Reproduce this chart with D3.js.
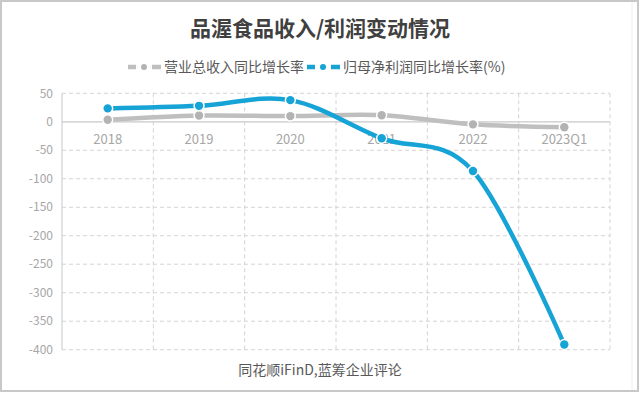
<!DOCTYPE html>
<html><head><meta charset="utf-8">
<script src="https://cdn.jsdelivr.net/npm/d3@7"></script>
<style>body{margin:0;background:#fff}svg{display:block}</style>
</head><body>
<script>
const categories = ["2018","2019","2020","2021","2022","2023Q1"];
const revenueGrowth = [3.5, 11, 10, 11.5, -4.5, -9.5];
const profitGrowth = [23.5, 28, 38, -29, -86.5, -391];
const yTicks = [50,0,-50,-100,-150,-200,-250,-300,-350,-400];
const seriesNames = ["营业总收入同比增长率","归母净利润同比增长率(%)"];
const colors = ["#bfbfbf","#16a3d6"];

const W=640,H=393;
const svg=d3.select("body").append("svg").attr("width",W).attr("height",H);
svg.append("rect").attr("x",0).attr("y",0).attr("width",W).attr("height",H).attr("fill","#fff");
// outer border
svg.append("rect").attr("x",1).attr("y",1).attr("width",W-3).attr("height",H-3)
  .attr("fill","none").attr("stroke","#c8c8c8").attr("stroke-width",2);
svg.append("line").attr("x1",632).attr("x2",632).attr("y1",2).attr("y2",390).attr("stroke","#eeeeee");

const font="'Noto Sans CJK SC','Noto Sans',sans-serif";
svg.append("text").attr("x",320).attr("y",36).attr("text-anchor","middle")
  .attr("font-family",font).attr("font-weight","bold").attr("font-size",21).attr("fill","#404040")
  .text("品渥食品收入/利润变动情况");

const x=d3.scalePoint().domain(categories).range([62+45.7,610-45.7]);
const y=d3.scaleLinear().domain([-400,50]).range([349.7,93.3]);
const left=62,right=610;

const g=svg.append("g");
// horizontal grid
g.selectAll(".hg").data(yTicks.filter(t=>t!==0)).join("line")
  .attr("x1",left).attr("x2",right).attr("y1",d=>y(d)).attr("y2",d=>y(d))
  .attr("stroke","#d4d4d4").attr("stroke-dasharray","4,3").attr("stroke-width",1);
// vertical grid
const vx=d3.range(categories.length+1).map(i=>left+(right-left)*i/categories.length);
g.selectAll(".vg").data(vx.slice(1)).join("line")
  .attr("x1",d=>d).attr("x2",d=>d).attr("y1",y(50)).attr("y2",y(-400))
  .attr("stroke","#d4d4d4").attr("stroke-dasharray","4,3");
// y axis line
g.append("line").attr("x1",left).attr("x2",left).attr("y1",y(50)).attr("y2",y(-400)).attr("stroke","#c8c8c8");
// zero line
g.append("line").attr("x1",left).attr("x2",right).attr("y1",y(0)).attr("y2",y(0)).attr("stroke","#c8c8c8").attr("stroke-width",1.2);

// y labels
g.selectAll(".yl").data(yTicks).join("text")
  .attr("x",53).attr("y",d=>y(d)).attr("dy","0.35em").attr("text-anchor","end")
  .attr("font-family",font).attr("font-size",12).attr("fill","#a6a6a6").text(d=>d);
// x labels
g.selectAll(".xl").data(categories).join("text")
  .attr("x",d=>x(d)).attr("y",139).attr("dy","0.35em").attr("text-anchor","middle")
  .attr("font-family",font).attr("font-size",13).attr("fill","#a6a6a6").text(d=>d);

const line=d3.line().x((d,i)=>x(categories[i])).y(d=>y(d)).curve(d3.curveCardinal.tension(0));
[revenueGrowth,profitGrowth].forEach((vals,si)=>{
  const sg=svg.append("g");
  sg.append("path").attr("d",line(vals)).attr("fill","none").attr("stroke",colors[si])
    .attr("stroke-width",4.5).attr("stroke-linecap","butt");
  sg.selectAll("circle").data(vals).join("circle")
    .attr("cx",(d,i)=>x(categories[i])).attr("cy",d=>y(d)).attr("r",4.2)
    .attr("fill",colors[si]==="#bfbfbf"?"#b3b3b3":colors[si]).attr("stroke","#fff").attr("stroke-width",3);
  sg.selectAll("circle").clone(false).attr("stroke","none");
});

// legend
const leg=[{x:128,tx:164},{x:307,tx:343}];
leg.forEach((l,i)=>{
  const lg=svg.append("g");
  const c=colors[i];
  lg.append("line").attr("x1",l.x).attr("x2",l.x+8).attr("y1",67).attr("y2",67).attr("stroke",c).attr("stroke-width",4.5);
  lg.append("line").attr("x1",l.x+24).attr("x2",l.x+33).attr("y1",67).attr("y2",67).attr("stroke",c).attr("stroke-width",4.5);
  lg.append("circle").attr("cx",l.x+16).attr("cy",67).attr("r",3).attr("fill",i===0?"#b3b3b3":c);
  lg.append("text").attr("x",l.tx).attr("y",67).attr("dy","0.35em").attr("font-family",font)
    .attr("font-size",14).attr("fill","#595959").text(seriesNames[i]);
});

svg.append("text").attr("x",320).attr("y",370).attr("text-anchor","middle").attr("dy","0.35em")
  .attr("font-family",font).attr("font-size",14).attr("fill","#595959").text("同花顺iFinD,蓝筹企业评论");
</script>
</body></html>
